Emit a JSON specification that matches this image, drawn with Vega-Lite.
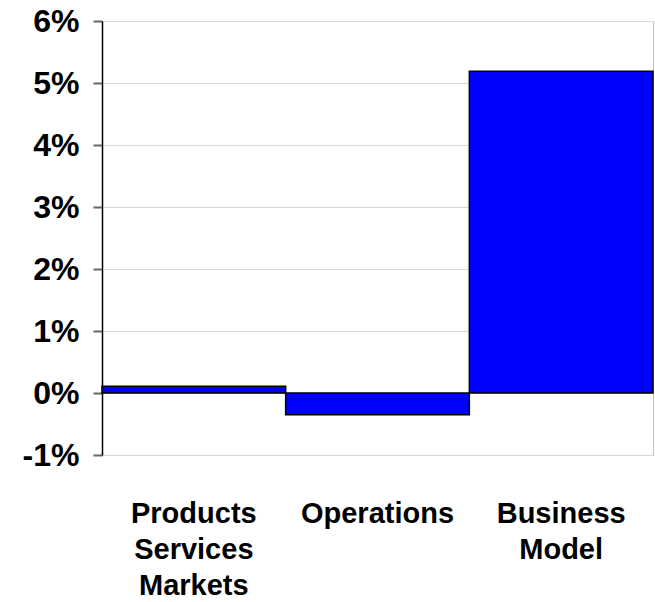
{
  "$schema": "https://vega.github.io/schema/vega-lite/v6.json",
  "width": 551,
  "height": 434,
  "autosize": {"type": "none"},
  "padding": {"left": 102, "top": 21, "right": 2, "bottom": 147},
  "background": "white",
  "config": {
    "view": {"stroke": "#c0c0c0", "strokeWidth": 1},
    "font": "Liberation Sans"
  },
  "data": {
    "values": [
      {"category": "Products Services Markets", "value": 0.0011},
      {"category": "Operations", "value": -0.0035},
      {"category": "Business Model", "value": 0.0519}
    ]
  },
  "mark": {"type": "bar", "color": "#0000ff", "stroke": "#000000", "strokeWidth": 1.5},
  "encoding": {
    "x": {
      "field": "category",
      "type": "nominal",
      "sort": null,
      "scale": {"paddingInner": 0, "paddingOuter": 0},
      "axis": {
        "title": null,
        "domain": false,
        "ticks": false,
        "grid": false,
        "labelAngle": 0,
        "labelExpr": "split(datum.label, ' ')",
        "labelFont": "Liberation Sans",
        "labelFontWeight": "bold",
        "labelFontSize": 29,
        "labelColor": "#000000",
        "labelLineHeight": 36,
        "labelBaseline": "top",
        "labelPadding": 44
      }
    },
    "y": {
      "field": "value",
      "type": "quantitative",
      "scale": {"domain": [-0.01, 0.06], "nice": false, "zero": false},
      "axis": {
        "title": null,
        "values": [-0.01, 0, 0.01, 0.02, 0.03, 0.04, 0.05, 0.06],
        "format": ".0%",
        "labelExpr": "replace(datum.label, '\u2212', '-')",
        "domain": true,
        "domainColor": "#000000",
        "domainWidth": 1.5,
        "ticks": true,
        "tickColor": "#666666",
        "tickSize": 9,
        "tickWidth": 2,
        "grid": true,
        "gridColor": "#d8d8d8",
        "gridWidth": 1,
        "labelFont": "Liberation Sans",
        "labelFontWeight": "bold",
        "labelFontSize": 32,
        "labelColor": "#000000",
        "labelPadding": 14
      }
    }
  }
}
